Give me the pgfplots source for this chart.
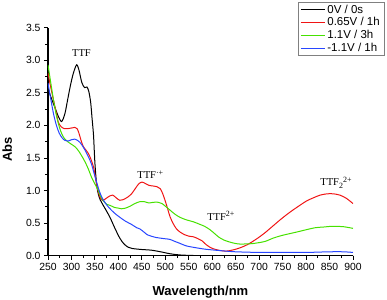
\documentclass[border=0pt]{standalone}
\usepackage{pgfplots}
\pgfplotsset{compat=1.18}
\usepackage{fontspec}
\setmainfont{Liberation Sans}
\newfontfamily\serif{Liberation Serif}
\definecolor{cgreen}{RGB}{70,225,0}
\definecolor{cblue}{RGB}{40,70,255}
\definecolor{cred}{RGB}{240,20,20}
\newcommand{\sups}[1]{\raisebox{0.75ex}{\fontsize{8}{8}\selectfont #1}}
\newcommand{\subs}[1]{\raisebox{-0.45ex}{\fontsize{8}{8}\selectfont #1}}
\begin{document}
\begin{tikzpicture}
\useasboundingbox (-48pt,-43.3pt) rectangle (339pt,255.7pt);
\begin{axis}[
  scale only axis, width=305pt, height=228pt,
  at={(0,0)}, anchor=south west,
  xmin=250, xmax=900, ymin=0, ymax=3.5,
  axis lines*=left,
  axis line style={line width=1.3pt,-},
  xtick={250,300,...,900},
  ytick={0,0.5,...,3.5},
  minor x tick num=1, minor y tick num=1,
  tick align=outside,
  major tick length=4pt, minor tick length=2.5pt,
  tick style={black, line width=0.9pt},
  ticklabel style={font=\fontsize{10.4}{12}\selectfont},
  /pgf/number format/assume math mode=true,
  yticklabel style={/pgf/number format/.cd, fixed, fixed zerofill, precision=1},
  xticklabel style={/pgf/number format/.cd, fixed, precision=0, 1000 sep={}},
  xlabel={\textbf{Wavelength/nm}},
  ylabel={\textbf{Abs}},
  label style={font=\fontsize{13}{14}\selectfont},
  xlabel style={at={(axis description cs:0.5,0)}, anchor=base, yshift=-39.3pt},
  ylabel style={at={(axis description cs:-0.134,0.466)}, anchor=center},
  legend cell align=left,
  legend image code/.code={\draw[mark repeat=2,mark phase=2,#1] plot coordinates {(0pt,0pt)(12pt,0pt)(24pt,0pt)};},
  legend style={at={(axis description cs:1.1016,1.1127)}, anchor=north east,
    draw=gray, font=\fontsize{11.5}{13}\selectfont,
    inner xsep=2pt, inner ysep=1pt, row sep=0pt,
    nodes={inner xsep=2pt, inner ysep=1.5pt}},
  every axis plot/.append style={line width=1pt, smooth, tension=0.5},
  clip=true,
]
\addplot[black] coordinates {
(250,2.56)(258,2.40)(265,2.27)(272,2.14)(279,2.06)(286,2.18)(292,2.40)(298,2.62)
(304,2.80)(311,2.93)(316,2.85)(322,2.66)(328,2.58)(333,2.59)(337,2.52)(341,2.35)
(344,2.10)(347,1.85)(350,1.42)(354,1.07)(359,0.90)(364,0.82)(372,0.72)(382,0.59)
(392,0.43)(403,0.27)(412,0.18)(421,0.13)(430,0.11)(450,0.095)(470,0.085)(490,0.06)
(510,0.03)(530,0.012)(560,0.003)(600,0.0)(700,0.0)(800,0.0)(900,0.0)};
\addlegendentry{0V / 0s}
\addplot[cred] coordinates {
(250,2.80)(256,2.58)(262,2.38)(268,2.18)(272,2.05)(278,1.98)(285,1.95)(292,1.95)
(300,1.96)(307,1.97)(312,1.95)(316,1.88)(320,1.78)(325,1.68)(331,1.62)(336,1.57)
(341,1.49)(347,1.36)(351,1.20)(354,1.08)(358,0.96)(362,0.88)(366,0.85)(372,0.87)
(380,0.91)(388,0.93)(395,0.89)(403,0.85)(410,0.86)(420,0.90)(428,0.95)(436,1.03)
(443,1.10)(450,1.13)(457,1.11)(465,1.08)(474,1.07)(482,1.06)(489,1.03)(494,0.96)
(499,0.86)(505,0.72)(510,0.60)(517,0.49)(524,0.41)(532,0.36)(542,0.32)(550,0.30)
(560,0.29)(570,0.26)(578,0.23)(587,0.17)(595,0.13)(605,0.10)(617,0.08)(630,0.07)
(645,0.09)(659,0.12)(675,0.17)(695,0.26)(712,0.35)(730,0.46)(748,0.57)(766,0.67)
(784,0.76)(801,0.84)(816,0.89)(830,0.93)(845,0.95)(858,0.95)(872,0.93)(886,0.88)(900,0.80)};
\addlegendentry{0.65V / 1h}
\addplot[cgreen] coordinates {
(250,2.93)(256,2.65)(262,2.38)(268,2.15)(274,1.98)(280,1.86)(286,1.79)(292,1.75)
(300,1.71)(308,1.67)(315,1.61)(322,1.53)(329,1.44)(336,1.33)(343,1.20)(350,1.10)
(356,1.02)(362,0.91)(368,0.84)(375,0.79)(383,0.77)(392,0.74)(400,0.73)(407,0.72)
(415,0.73)(425,0.76)(435,0.80)(446,0.83)(455,0.83)(465,0.81)(475,0.82)(485,0.82)
(493,0.80)(500,0.76)(510,0.70)(520,0.64)(531,0.59)(545,0.55)(560,0.52)(574,0.48)
(584,0.45)(595,0.40)(605,0.34)(613,0.29)(625,0.24)(642,0.20)(656,0.18)(670,0.18)
(685,0.185)(699,0.20)(713,0.22)(730,0.27)(748,0.31)(766,0.34)(784,0.37)(801,0.40)
(820,0.43)(837,0.44)(852,0.45)(865,0.45)(880,0.445)(900,0.42)};
\addlegendentry{1.1V / 3h}
\addplot[cblue] coordinates {
(250,2.65)(256,2.40)(262,2.17)(268,2.00)(274,1.88)(280,1.81)(286,1.77)(293,1.76)
(300,1.78)(307,1.79)(313,1.77)(318,1.74)(324,1.68)(329,1.62)(336,1.52)(343,1.40)
(348,1.27)(354,1.12)(360,0.98)(366,0.88)(375,0.78)(385,0.70)(394,0.64)(403,0.59)
(415,0.53)(428,0.48)(439,0.43)(446,0.41)(455,0.36)(462,0.32)(470,0.30)(480,0.28)
(489,0.27)(500,0.26)(510,0.25)(520,0.22)(531,0.19)(545,0.15)(567,0.12)(585,0.10)
(606,0.085)(630,0.07)(650,0.06)(700,0.05)(750,0.05)(800,0.05)(850,0.06)(880,0.06)(900,0.05)};
\addlegendentry{-1.1V / 1h}
\node[font=\serif\fontsize{10.5}{10}\selectfont, anchor=base west, inner sep=0] at (axis cs:301,3.06) {TTF};
\node[font=\serif\fontsize{10.5}{10}\selectfont, anchor=base west, inner sep=0] at (axis cs:440,1.18) {TTF\sups{·+}};
\node[font=\serif\fontsize{10.5}{10}\selectfont, anchor=base west, inner sep=0] at (axis cs:589,0.54) {TTF\sups{2+}};
\node[font=\serif\fontsize{10.5}{10}\selectfont, anchor=base west, inner sep=0] at (axis cs:830,1.07) {TTF\subs{2}\sups{2+}};
\end{axis}
\end{tikzpicture}
\end{document}
